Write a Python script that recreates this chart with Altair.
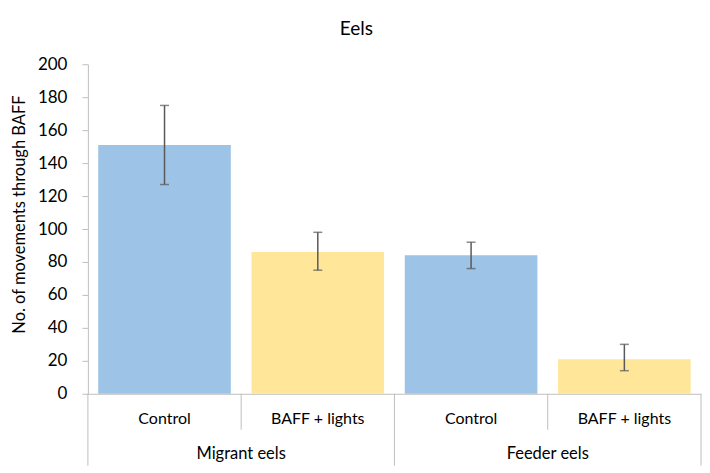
import altair as alt
import pandas as pd

groups = ["Migrant eels", "Migrant eels", "Feeder eels", "Feeder eels"]
treatments = ["Control", "BAFF + lights", "Control", "BAFF + lights"]
means = [151, 86, 84, 21]
err_low = [127, 75, 76, 14]
err_high = [175, 98, 92, 30]
colors = ["#9DC3E6", "#FFE699"]

keys = [f"{g}|{t}" for g, t in zip(groups, treatments)]
df = pd.DataFrame({"key": keys, "group": groups, "treatment": treatments,
                   "mean": means, "lo": err_low, "hi": err_high})

# group info
grp_names = list(dict.fromkeys(groups))
grp_first = [keys[groups.index(g)] for g in grp_names]
grp_df = pd.DataFrame({"group": grp_names, "key": grp_first})
inner_df = pd.DataFrame({"key": [keys[i] for i in range(1, len(keys)) if groups[i] == groups[i - 1]]})
outer_start_df = pd.DataFrame({"key": grp_first})
outer_end_df = pd.DataFrame({"key": [keys[-1]]})

W, H = 614, 330
FONT = "Lato"
GRAY = "#BFBFBF"

xscale = alt.Scale(domain=keys, paddingInner=0, paddingOuter=0)
yscale = alt.Scale(domain=[0, 200], nice=False)
xaxis = alt.Axis(labels=False, ticks=False, title=None, domainColor=GRAY, domainWidth=1)
yaxis = alt.Axis(values=list(range(0, 201, 20)), grid=False, domainColor=GRAY,
                 tickColor=GRAY, tickSize=6, labelPadding=15, labelFontSize=17,
                 labelColor="#000000", labelFont=FONT, labelOverlap=False,
                 title="No. of movements through BAFF", titleFontSize=16.5,
                 titleFont=FONT, titleFontWeight="normal", titleColor="#000000",
                 titlePadding=10, titleY=150)

def X(bp=None):
    if bp is None:
        return alt.X("key:N", scale=xscale, axis=xaxis)
    return alt.X("key:N", scale=xscale, axis=xaxis, bandPosition=bp)

def Y(field):
    return alt.Y(field, scale=yscale, axis=yaxis)

base = alt.Chart(df)

bars = base.mark_bar(width=alt.RelativeBandSize(0.865)).encode(
    x=X(), y=Y("mean:Q"),
    color=alt.Color("treatment:N", scale=alt.Scale(domain=["Control", "BAFF + lights"], range=colors),
                    legend=None),
)

err = base.mark_rule(color="#595959", strokeWidth=1.5).encode(
    x=X(), y=Y("lo:Q"), y2="hi:Q")
cap_hi = base.mark_tick(color="#595959", thickness=1.5, size=9).encode(x=X(), y=Y("hi:Q"))
cap_lo = base.mark_tick(color="#595959", thickness=1.5, size=9).encode(x=X(), y=Y("lo:Q"))

cat_labels = base.mark_text(font=FONT, fontSize=16, color="#000000", baseline="middle").encode(
    x=X(), y=alt.value(H + 25), text="treatment:N")

grp_labels = alt.Chart(grp_df).mark_text(font=FONT, fontSize=16.5, color="#000000", baseline="middle").encode(
    x=X(1), y=alt.value(H + 60), text="group:N")

inner_sep = alt.Chart(inner_df).mark_rule(color=GRAY, strokeWidth=1).encode(
    x=X(0), y=alt.value(H), y2=alt.value(H + 36))
outer_sep = alt.Chart(outer_start_df).mark_rule(color=GRAY, strokeWidth=1).encode(
    x=X(0), y=alt.value(H), y2=alt.value(H + 72))
outer_end = alt.Chart(outer_end_df).mark_rule(color=GRAY, strokeWidth=1).encode(
    x=X(1), y=alt.value(H), y2=alt.value(H + 72))

chart = alt.layer(bars, err, cap_hi, cap_lo, cat_labels, grp_labels, inner_sep, outer_sep, outer_end).properties(
    width=W, height=H,
    title=alt.TitleParams("Eels", font=FONT, fontSize=19, fontWeight="normal", color="#000000",
                          anchor="middle", frame="bounds", offset=16),
    padding={"left": 3, "top": 12, "right": 0, "bottom": 0},
).configure_view(stroke=None)

chart.save("out.html", embed_options={"renderer": "svg", "actions": False})
